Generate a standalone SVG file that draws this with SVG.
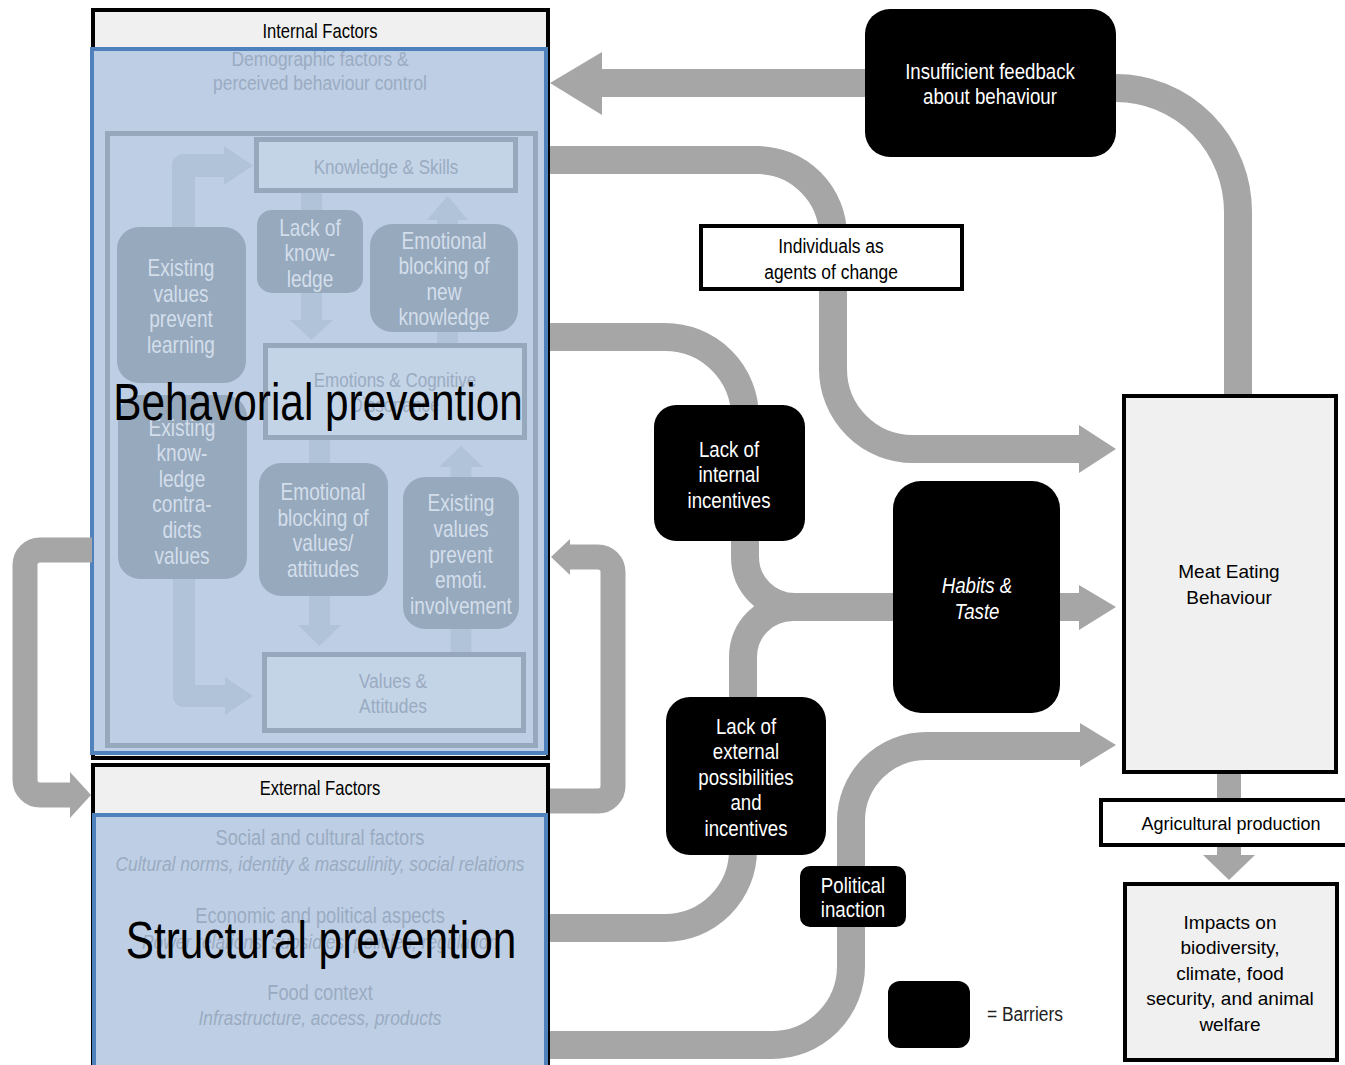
<svg xmlns="http://www.w3.org/2000/svg" width="1345" height="1065" viewBox="0 0 1345 1065">
<style>
.n{font-family:"Liberation Sans",Arial,sans-serif;text-anchor:middle}
.a{font-family:"Liberation Sans",Arial,sans-serif;text-anchor:middle}
.it{font-style:italic}
.fade{fill:#9aabc1}
.bt{fill:#d3deeb;font-size:23px}
.wt{fill:#fff;font-size:22.5px}
.ib{fill:#97a9bd}
.ibox{fill:#c4d4e7;stroke:#97a8bc;stroke-width:5}
.la{fill:none;stroke:#b1c3d9;stroke-linejoin:round}
.lh{fill:#b1c3d9}
.con{fill:none;stroke:#a6a6a6;stroke-width:28}
.hd{fill:#a6a6a6}
.bar{fill:#000}
</style>

<g id="internal-factors">
  <rect x="93" y="10" width="455" height="748" fill="#f0f0f0" stroke="#000" stroke-width="4"/>
  <text class="n" transform="translate(320 0) scale(.83 1)" font-size="20"><tspan x="0" y="38">Internal Factors</tspan></text>
  <rect x="92" y="49" width="454" height="704" fill="#becfe5" stroke="#4f81bd" stroke-width="4"/>
  <text class="n fade" transform="translate(320 0) scale(.83 1)" font-size="21"><tspan x="0" y="66">Demographic factors &amp;</tspan><tspan x="0" y="90">perceived behaviour control</tspan></text>
  <rect x="107.5" y="133.5" width="428" height="612" fill="none" stroke="#97a8bc" stroke-width="5"/>
  <path class="la" d="M183.5,228 V165.5 H226" stroke-width="23"/>
  <polygon class="lh" points="224,146 253,165.5 224,185"/>
  <path class="la" d="M184,579 V696 H226" stroke-width="22"/>
  <polygon class="lh" points="225,677 253,696 225,715"/>
  <path class="la" d="M311.5,193 V322" stroke-width="21"/>
  <polygon class="lh" points="290,320 311.5,340 333,320"/>
  <path class="la" d="M447.5,343 V218" stroke-width="21"/>
  <polygon class="lh" points="427,220 447.5,196 468,220"/>
  <path class="la" d="M319.5,440 V627" stroke-width="21"/>
  <polygon class="lh" points="298,625 319.5,646 341,625"/>
  <path class="la" d="M461,652 V466" stroke-width="21"/>
  <polygon class="lh" points="439,467 461,446 483,467"/>
  <rect class="ibox" x="256.5" y="139.5" width="259" height="51"/>
  <text class="n fade" transform="translate(386 0) scale(.83 1)" font-size="20.5"><tspan x="0" y="174">Knowledge &amp; Skills</tspan></text>
  <rect class="ibox" x="265.5" y="345.5" width="259" height="92"/>
  <text class="n fade" transform="translate(395 0) scale(.83 1)" font-size="20.5"><tspan x="0" y="387">Emotions &amp; Cognitive</tspan><tspan x="0" y="412">Dissonance</tspan></text>
  <rect class="ibox" x="264.5" y="654.5" width="259" height="76"/>
  <text class="n fade" transform="translate(393 0) scale(.83 1)" font-size="21"><tspan x="0" y="688">Values &amp;</tspan><tspan x="0" y="713">Attitudes</tspan></text>
  <rect class="ib" x="117" y="227" width="129" height="156" rx="22"/>
  <text class="n bt" transform="translate(181 0) scale(.83 1)"><tspan x="0" y="276">Existing</tspan><tspan x="0" y="302">values</tspan><tspan x="0" y="327">prevent</tspan><tspan x="0" y="353">learning</tspan></text>
  <rect class="ib" x="257" y="210" width="106" height="83" rx="15"/>
  <text class="n bt" transform="translate(310 0) scale(.83 1)"><tspan x="0" y="236">Lack of</tspan><tspan x="0" y="261">know-</tspan><tspan x="0" y="287">ledge</tspan></text>
  <rect class="ib" x="370" y="224" width="148" height="108" rx="22"/>
  <text class="n bt" transform="translate(444 0) scale(.83 1)"><tspan x="0" y="249">Emotional</tspan><tspan x="0" y="274">blocking of</tspan><tspan x="0" y="300">new</tspan><tspan x="0" y="325">knowledge</tspan></text>
  <rect class="ib" x="118" y="395" width="129" height="184" rx="22"/>
  <text class="n bt" transform="translate(182 0) scale(.83 1)"><tspan x="0" y="436">Existing</tspan><tspan x="0" y="461">know-</tspan><tspan x="0" y="487">ledge</tspan><tspan x="0" y="512">contra-</tspan><tspan x="0" y="538">dicts</tspan><tspan x="0" y="564">values</tspan></text>
  <rect class="ib" x="259" y="463" width="129" height="133" rx="22"/>
  <text class="n bt" transform="translate(323 0) scale(.83 1)"><tspan x="0" y="500">Emotional</tspan><tspan x="0" y="526">blocking of</tspan><tspan x="0" y="551">values/</tspan><tspan x="0" y="577">attitudes</tspan></text>
  <rect class="ib" x="403" y="477" width="116" height="152" rx="22"/>
  <text class="n bt" transform="translate(461 0) scale(.83 1)"><tspan x="0" y="511">Existing</tspan><tspan x="0" y="537">values</tspan><tspan x="0" y="563">prevent</tspan><tspan x="0" y="588">emoti.</tspan><tspan x="0" y="614">involvement</tspan></text>
  <text class="n" transform="translate(318 0) scale(.83 1)" font-size="51" fill="#000"><tspan x="0" y="420">Behavorial prevention</tspan></text>
</g>

<g id="external-factors">
  <rect x="93" y="765" width="455" height="305" fill="#f0f0f0" stroke="#000" stroke-width="4"/>
  <text class="n" transform="translate(320 0) scale(.83 1)" font-size="20"><tspan x="0" y="795">External Factors</tspan></text>
  <rect x="94" y="815" width="452" height="260" fill="#becfe5" stroke="#4f81bd" stroke-width="4"/>
  <text class="n fade" transform="translate(320 0) scale(.83 1)" font-size="22"><tspan x="0" y="845">Social and cultural factors</tspan></text>
  <text class="n fade it" transform="translate(320 0) scale(.83 1)" font-size="21"><tspan x="0" y="871">Cultural norms, identity &amp; masculinity, social relations</tspan></text>
  <text class="n fade" transform="translate(320 0) scale(.83 1)" font-size="22"><tspan x="0" y="923">Economic and political aspects</tspan></text>
  <text class="n fade it" transform="translate(320 0) scale(.83 1)" font-size="21"><tspan x="0" y="949">Power relations, subsidies, policies, regulation</tspan></text>
  <text class="n fade" transform="translate(320 0) scale(.83 1)" font-size="22"><tspan x="0" y="1000">Food context</tspan></text>
  <text class="n fade it" transform="translate(320 0) scale(.83 1)" font-size="21"><tspan x="0" y="1025">Infrastructure, access, products</tspan></text>
  <text class="n" transform="translate(321 0) scale(.83 1)" font-size="51" fill="#000"><tspan x="0" y="958">Structural prevention</tspan></text>
</g>

<g id="connectors">
  <path class="con" d="M870,83 H600"/>
  <polygon class="hd" points="602,52 550,83 602,115"/>
  <path class="con" d="M1110,88 H1116 A122,124 0 0 1 1238,212 V400"/>
  <path class="con" d="M550,160 H757 A76,76 0 0 1 833,236 V369 A80,80 0 0 0 913,449 H1082"/>
  <polygon class="hd" points="1079,425 1116,449 1079,473"/>
  <path class="con" d="M550,337 H665 A80,80 0 0 1 745,417 V557 A50,50 0 0 0 795,607 H1082"/>
  <path class="con" d="M550,928 H665 A78,78 0 0 0 743,850 V657 A50,50 0 0 1 793,607"/>
  <polygon class="hd" points="1079,585 1116,607 1079,630"/>
  <path class="con" d="M550,1045 H772 A79,79 0 0 0 851,966 V821 A75,75 0 0 1 926,746 H1082"/>
  <polygon class="hd" points="1080,723 1116,745 1080,767"/>
  <path class="con" style="stroke-width:25" d="M92,550 H40 A15,15 0 0 0 25,565 V780 A15,15 0 0 0 40,795 H72"/>
  <polygon class="hd" points="70,772 91,795 70,818"/>
  <path class="con" style="stroke-width:25" d="M550,801 H598 A15,15 0 0 0 613,786 V572 A15,15 0 0 0 598,557 H568"/>
  <polygon class="hd" points="570,539 551,557 570,575"/>
  <path class="con" style="stroke-width:24" d="M1229,772 V802"/>
  <path class="con" style="stroke-width:24" d="M1229,843 V857"/>
  <polygon class="hd" points="1203,855 1229,880 1255,855"/>
</g>

<g id="insufficient-feedback">
  <rect class="bar" x="865" y="9" width="251" height="148" rx="25"/>
  <text class="n wt" transform="translate(990 0) scale(.83 1)"><tspan x="0" y="79">Insufficient feedback</tspan><tspan x="0" y="104">about behaviour</tspan></text>
</g>
<g id="individuals-agents">
  <rect x="701" y="226" width="261" height="63" fill="#fff" stroke="#000" stroke-width="4"/>
  <text class="n" transform="translate(831 0) scale(.83 1)" font-size="21"><tspan x="0" y="253">Individuals as</tspan><tspan x="0" y="279">agents of change</tspan></text>
</g>
<g id="lack-internal">
  <rect class="bar" x="654" y="405" width="151" height="136" rx="22"/>
  <text class="n wt" transform="translate(729 0) scale(.83 1)"><tspan x="0" y="457">Lack of</tspan><tspan x="0" y="482">internal</tspan><tspan x="0" y="508">incentives</tspan></text>
</g>
<g id="habits-taste">
  <rect class="bar" x="893" y="481" width="167" height="232" rx="28"/>
  <text class="n wt it" transform="translate(977 0) scale(.83 1)"><tspan x="0" y="593">Habits &amp;</tspan><tspan x="0" y="619">Taste</tspan></text>
</g>
<g id="lack-external">
  <rect class="bar" x="666" y="697" width="160" height="158" rx="24"/>
  <text class="n wt" transform="translate(746 0) scale(.83 1)"><tspan x="0" y="734">Lack of</tspan><tspan x="0" y="759">external</tspan><tspan x="0" y="785">possibilities</tspan><tspan x="0" y="810">and</tspan><tspan x="0" y="836">incentives</tspan></text>
</g>
<g id="political-inaction">
  <rect class="bar" x="800" y="866" width="106" height="61" rx="10"/>
  <text class="n wt" transform="translate(853 0) scale(.83 1)"><tspan x="0" y="893">Political</tspan><tspan x="0" y="917">inaction</tspan></text>
</g>
<g id="meat-eating">
  <rect x="1124" y="396" width="212" height="376" fill="#f0f0f0" stroke="#000" stroke-width="4"/>
  <text class="a" x="1229" y="578" font-size="19"><tspan x="1229">Meat Eating</tspan><tspan x="1229" y="604">Behaviour</tspan></text>
</g>
<g id="agricultural-production">
  <rect x="1101" y="800" width="262" height="45" fill="#fff" stroke="#000" stroke-width="4"/>
  <text class="a" x="1231" y="830" font-size="18">Agricultural production</text>
</g>
<g id="impacts">
  <rect x="1125" y="884" width="212" height="176" fill="#f0f0f0" stroke="#000" stroke-width="4"/>
  <text class="a" x="1230" y="929" font-size="19"><tspan x="1230">Impacts on</tspan><tspan x="1230" y="954">biodiversity,</tspan><tspan x="1230" y="980">climate, food</tspan><tspan x="1230" y="1005">security, and animal</tspan><tspan x="1230" y="1031">welfare</tspan></text>
</g>
<g id="legend">
  <rect class="bar" x="888" y="981" width="82" height="67" rx="12"/>
  <text class="n" transform="translate(987 0) scale(.83 1)" font-size="21" style="text-anchor:start" fill="#222"><tspan x="0" y="1021">= Barriers</tspan></text>
</g>
</svg>
